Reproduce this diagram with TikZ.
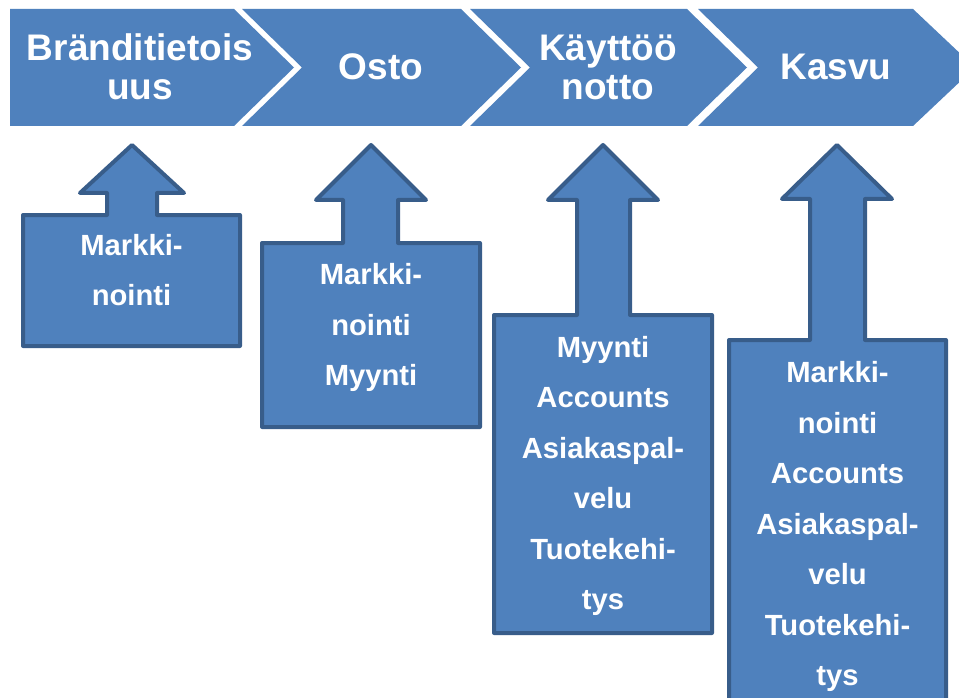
\documentclass[tikz,border=0pt]{standalone}
\usepackage{fontspec}
\setmainfont{Liberation Sans}
\definecolor{chevfill}{HTML}{4F81BD}
\definecolor{calloutline}{HTML}{385D8A}
\tikzset{
  chev/.style={fill=chevfill, draw=none},
  callout/.style={fill=chevfill, draw=calloutline, line width=4pt, line join=round},
  chevtext/.style={text=white, align=center, inner sep=0pt, font=\bfseries\fontsize{37}{39}\selectfont},
  boxtext/.style={text=white, align=center, inner sep=0pt, font=\bfseries\fontsize{29.2}{50.5}\selectfont},
}
% #1 L, #2 R, #3 T, #4 B, #5 shaft L, #6 shaft R, #7 wing L, #8 wing R, #9 wing y ; tip computed
\newcommand{\myupcallout}[9]{%
  \path[callout] (#1,#3) -- (#5,#3) -- (#5,#9) -- (#7,#9) -- ({(#7+#8)/2},145) -- (#8,#9) -- (#6,#9) -- (#6,#3) -- (#2,#3) -- (#2,#4) -- (#1,#4) -- cycle;}
\begin{document}
\begin{tikzpicture}[x=1pt,y=-1pt]
\useasboundingbox (0,0) rectangle (959,698);
\fill[white] (0,0) rectangle (959,698);
\clip (0,0) rectangle (959,698);
% chevrons
\path[chev] (10,9) -- (234,9) -- (294,67.5) -- (234,126) -- (10,126) -- cycle;
\path[chev] (242,9) -- (461,9) -- (521,67.5) -- (461,126) -- (242,126) -- (302,67.5) -- cycle;
\path[chev] (470,9) -- (687,9) -- (747,67.5) -- (687,126) -- (470,126) -- (530,67.5) -- cycle;
\path[chev] (698,9) -- (913,9) -- (975,67.5) -- (913,126) -- (698,126) -- (758,67.5) -- cycle;
\node[chevtext] (c1) at (140,67) {Bränditietois\\uus};
\node[chevtext] (c2) at (381,67) {Osto};
\node[chevtext] (c3) at (608,67) {Käyttöö\\notto};
\node[chevtext] (c4) at (836,67) {Kasvu};
% callouts
\myupcallout{23}{240}{215}{346}{107}{157}{80}{184}{193}
\myupcallout{262}{480}{243}{427}{343}{398}{316}{426}{200}
\myupcallout{494}{712}{315}{633}{577}{630}{548}{658}{200}
\myupcallout{729}{946}{340}{730}{810}{865}{782}{892}{199}
\node[boxtext] (b1) at (131.5,270) {Markki-\\nointi};
\node[boxtext] (b2) at (371,327.5) {Markki-\\nointi\\Myynti};
\node[boxtext] (b3) at (603,476) {Myynti\\Accounts\\Asiakaspal-\\velu\\Tuotekehi-\\tys};
\node[boxtext] (b4) at (837.5,526.5) {Markki-\\nointi\\Accounts\\Asiakaspal-\\velu\\Tuotekehi-\\tys};
\end{tikzpicture}
\end{document}
